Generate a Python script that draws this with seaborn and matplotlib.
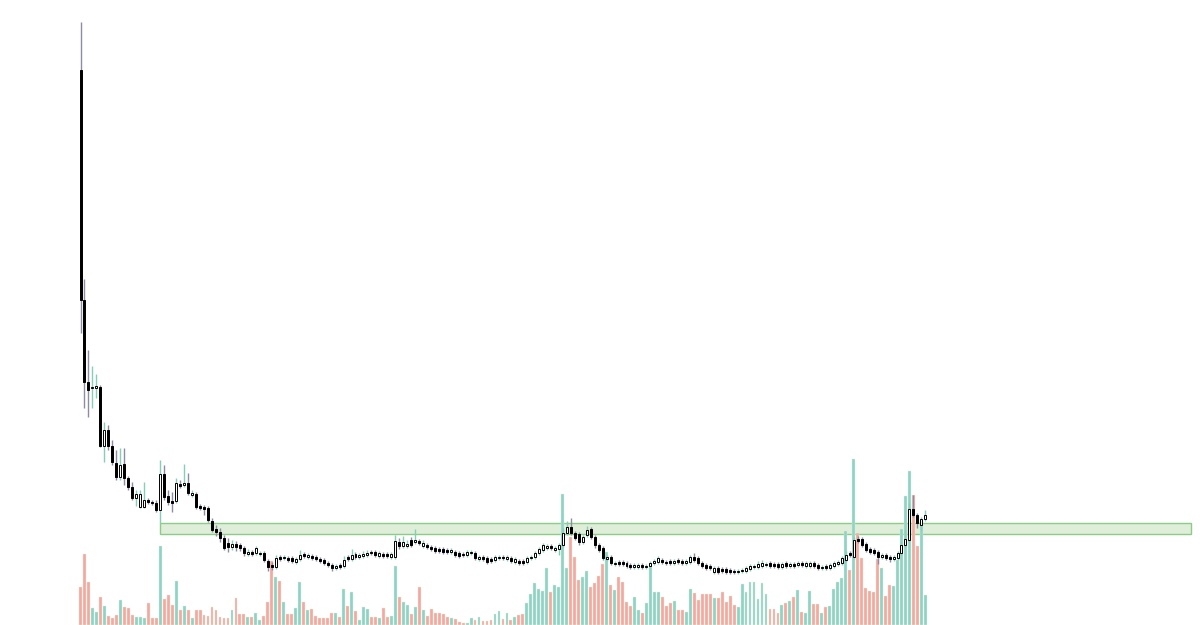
import numpy as np
import pandas as pd
import matplotlib
matplotlib.use("Agg")
import matplotlib.pyplot as plt
from matplotlib.patches import Rectangle
import seaborn as sns

# ---- data (price in cents, volume in arbitrary units) ----
open_ = [555, 325, 243, 237, 237, 238, 179, 195, 179, 162, 148, 161, 147, 138, 127, 118, 118, 125, 123, 122,
         115, 151, 129, 124, 124, 141, 140, 142, 130, 131, 119, 118, 117, 104, 96, 93, 87, 82, 78, 81,
         80, 77, 71, 73, 72, 71, 72, 64, 60, 58, 68, 67, 67, 67, 63, 66, 71, 68, 69, 68,
         66, 65, 62, 60, 57, 60, 59, 68, 66, 71, 68, 69, 70, 73, 73, 69, 71, 71, 68, 68,
         83, 79, 79, 85, 83, 84, 79, 80, 78, 77, 76, 76, 75, 73, 73, 72, 71, 70, 72, 72,
         66, 68, 67, 66, 65, 67, 68, 66, 67, 63, 64, 64, 63, 67, 68, 72, 75, 77, 79, 75,
         76, 80, 92, 98, 92, 91, 83, 90, 96, 88, 80, 77, 66, 68, 61, 63, 63, 62, 60, 58,
         58, 60, 58, 59, 62, 63, 65, 63, 64, 62, 65, 64, 62, 63, 68, 67, 62, 60, 59, 53,
         57, 56, 56, 55, 54, 53, 54, 54, 56, 58, 58, 59, 60, 62, 61, 61, 58, 62, 59, 61,
         60, 62, 59, 59, 62, 60, 57, 59, 57, 59, 61, 62, 65, 72, 68, 86, 86, 81, 76, 75,
         73, 68, 70, 68, 66, 67, 72, 80, 85, 116, 110, 100, 106]
close = [325, 243, 235, 238, 239, 179, 195, 179, 163, 148, 160, 147, 138, 127, 131, 131, 125, 123, 122, 115,
         151, 128, 123, 122, 142, 139, 142, 132, 132, 118, 117, 116, 105, 95, 93, 87, 77, 78, 81, 78,
         77, 72, 73, 71, 77, 72, 65, 58, 58, 67, 66, 68, 65, 64, 66, 70, 69, 70, 67, 66,
         64, 62, 60, 57, 59, 58, 65, 66, 70, 68, 70, 71, 72, 72, 70, 72, 69, 69, 71, 84,
         79, 83, 81, 80, 85, 82, 82, 78, 76, 74, 74, 73, 73, 75, 70, 69, 70, 73, 73, 67,
         68, 66, 63, 64, 68, 68, 67, 68, 64, 66, 62, 62, 67, 68, 72, 76, 80, 79, 77, 77,
         80, 92, 98, 92, 87, 83, 88, 95, 88, 80, 75, 67, 68, 62, 62, 61, 61, 59, 58, 60,
         60, 58, 59, 62, 64, 67, 63, 62, 62, 64, 63, 62, 64, 68, 65, 62, 59, 57, 57, 57,
         53, 54, 53, 53, 53, 54, 55, 57, 59, 59, 61, 62, 61, 59, 59, 58, 61, 59, 61, 59,
         62, 60, 62, 62, 59, 57, 58, 57, 60, 62, 63, 67, 70, 70, 85, 84, 80, 75, 73, 72,
         68, 70, 67, 66, 68, 72, 80, 86, 116, 110, 102, 106, 110]
high = [603, 346, 275, 259, 251, 240, 203, 200, 185, 175, 177, 177, 149, 143, 135, 135, 143, 127, 125, 125,
        165, 160, 135, 133, 147, 145, 161, 152, 135, 133, 121, 120, 119, 107, 100, 97, 90, 87, 85, 84,
        82, 79, 76, 75, 79, 74, 74, 66, 63, 70, 70, 70, 69, 69, 68, 75, 73, 72, 71, 70,
        68, 67, 64, 62, 61, 62, 69, 70, 76, 73, 72, 74, 75, 75, 75, 74, 73, 73, 73, 90,
        87, 89, 85, 88, 96, 86, 85, 82, 80, 79, 78, 78, 77, 77, 75, 74, 73, 75, 75, 74,
        70, 70, 69, 68, 70, 70, 70, 70, 69, 68, 66, 66, 69, 70, 74, 78, 82, 81, 81, 79,
        82, 97, 104, 107, 94, 93, 90, 99, 98, 90, 82, 79, 70, 70, 64, 65, 65, 64, 62, 62,
        62, 62, 61, 64, 66, 69, 67, 65, 66, 66, 67, 66, 66, 70, 72, 69, 64, 62, 61, 59,
        59, 58, 58, 57, 56, 56, 57, 59, 61, 61, 64, 65, 63, 64, 63, 63, 63, 64, 63, 63,
        64, 64, 64, 64, 64, 62, 60, 61, 62, 64, 65, 69, 74, 74, 88, 89, 88, 83, 78, 77,
        75, 72, 72, 70, 70, 74, 84, 95, 122, 130, 112, 108, 115]
low = [292, 217, 208, 217, 227, 178, 163, 175, 160, 145, 145, 140, 135, 125, 119, 117, 117, 121, 120, 113,
       102, 125, 120, 113, 122, 137, 138, 130, 128, 116, 115, 110, 103, 93, 89, 83, 75, 73, 75, 74,
       74, 69, 69, 69, 70, 69, 63, 54, 55, 56, 64, 65, 63, 62, 61, 64, 67, 66, 65, 64,
       62, 60, 58, 54, 55, 56, 57, 64, 64, 66, 66, 67, 68, 70, 68, 67, 67, 67, 66, 66,
       76, 77, 77, 78, 81, 80, 77, 76, 74, 72, 72, 71, 71, 71, 68, 67, 68, 68, 70, 65,
       64, 64, 61, 62, 63, 65, 65, 64, 62, 61, 60, 60, 61, 65, 66, 70, 73, 75, 75, 73,
       70, 78, 90, 90, 85, 80, 81, 88, 86, 77, 73, 65, 64, 60, 59, 59, 59, 57, 56, 56,
       56, 56, 56, 57, 60, 61, 61, 60, 60, 60, 61, 60, 60, 61, 63, 60, 57, 55, 55, 51,
       51, 52, 51, 51, 51, 51, 52, 52, 54, 56, 56, 57, 58, 57, 57, 56, 56, 57, 57, 57,
       58, 58, 57, 57, 57, 55, 55, 55, 55, 57, 59, 60, 63, 68, 66, 82, 78, 73, 71, 70,
       61, 66, 65, 63, 64, 65, 70, 78, 83, 108, 97, 95, 104]
volume = [38, 71, 43, 17, 13, 28, 19, 9, 7, 10, 25, 18, 17, 10, 8, 8, 7, 22, 7, 7,
          79, 26, 30, 20, 44, 15, 19, 15, 7, 15, 15, 10, 9, 18, 15, 8, 7, 7, 15, 27,
          11, 11, 8, 8, 12, 5, 9, 23, 64, 48, 44, 23, 11, 11, 17, 43, 23, 15, 16, 9,
          7, 7, 7, 12, 12, 8, 36, 19, 33, 14, 5, 18, 16, 8, 8, 7, 17, 8, 9, 59,
          28, 23, 20, 11, 18, 38, 15, 9, 16, 12, 12, 11, 8, 7, 6, 3, 2, 2, 7, 5,
          8, 4, 4, 5, 11, 14, 6, 12, 5, 8, 10, 11, 22, 31, 42, 36, 34, 57, 33, 40,
          38, 131, 57, 88, 68, 45, 48, 54, 38, 42, 49, 61, 73, 40, 35, 48, 43, 23, 19, 28,
          15, 12, 22, 58, 33, 33, 28, 19, 22, 24, 15, 15, 13, 36, 32, 25, 31, 31, 31, 27,
          27, 33, 23, 29, 20, 18, 41, 33, 43, 43, 26, 42, 31, 16, 16, 12, 20, 22, 24, 28,
          35, 13, 12, 34, 21, 21, 12, 18, 19, 36, 43, 47, 94, 55, 166, 92, 67, 37, 34, 33,
          66, 57, 29, 40, 39, 65, 96, 129, 154, 130, 79, 103, 30]

# support / resistance zone (price, cents) starting at candle 20
zone_low, zone_high = 91, 102
zone_start, zone_end = 20, 278.7

# ---- styling ----
TEAL = "#8dd3c7"
SALMON = "#f6a7a1"
ZONE_FILL = "#dfeed8"
ZONE_EDGE = "#8ccb88"

df = pd.DataFrame({"open": open_, "high": high, "low": low, "close": close, "volume": volume})
df["idx"] = np.arange(len(df))
df["dir"] = np.where(df["close"] >= df["open"], "up", "down")

sns.set_theme(style="white")
fig = plt.figure(figsize=(12, 6.25), dpi=100)
fig.patch.set_facecolor("white")
ax = fig.add_axes([0, 0, 1, 1])
ax_p = ax.twinx()

xlim = (-20.2, 280.9)
for a in (ax, ax_p):
    a.set_xlim(*xlim)
    a.set_ylim(0, 625)
    a.axis("off")

# zone
ax.add_patch(Rectangle((zone_start, zone_low), zone_end - zone_start, zone_high - zone_low,
                       facecolor=ZONE_FILL, edgecolor=ZONE_EDGE, linewidth=1.0, zorder=0))

# volume bars (seaborn)
sns.barplot(data=df, x="idx", y="volume", hue="dir", palette={"up": TEAL, "down": SALMON},
            native_scale=True, dodge=False, width=0.72, legend=False, ax=ax, saturation=1,
            edgecolor="#e3edd6", linewidth=0.3, zorder=2)
ax.set_xlim(*xlim)
ax.set_ylim(0, 625)
ax.axis("off")

# candles
up = df["dir"] == "up"
wick_col = np.where(up, "#86cfb6", "#8c8ca6")
ax_p.vlines(df["idx"], df["low"], df["high"], colors=wick_col, linewidth=1.0, zorder=3)
body_bottom = np.minimum(df["open"], df["close"])
body_h = np.maximum(np.abs(df["close"] - df["open"]), 1.5)
ax_p.bar(df["idx"], body_h, bottom=body_bottom, width=0.5,
         color=np.where(up, "white", "black"), edgecolor="black", linewidth=0.7, zorder=4)
ax_p.set_xlim(*xlim)
ax_p.set_ylim(0, 625)

fig.savefig("out.png", dpi=100, facecolor="white")
